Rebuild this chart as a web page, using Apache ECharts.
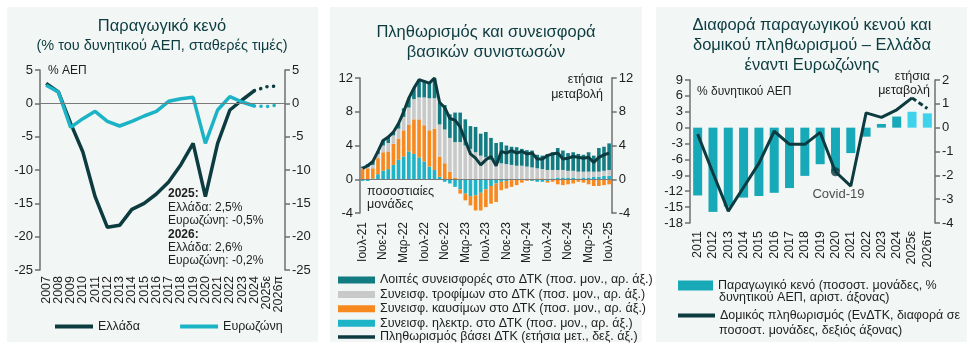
<!DOCTYPE html>
<html>
<head>
<meta charset="utf-8">
<title>Παραγωγικό κενό και πληθωρισμός</title>
<script src="https://cdn.jsdelivr.net/npm/echarts@6/dist/echarts.min.js"></script>
<style>html,body{margin:0;padding:0;background:#fff;}</style>
</head>
<body>
<div id="main" style="width:973px;height:350px;"></div>
<script type="text/javascript">
// ---------- panel 1: output gap ----------
var years1 = ['2007','2008','2009','2010','2011','2012','2013','2014','2015','2016',
              '2017','2018','2019','2020','2021','2022','2023','2024','2025ε','2026π'];
var greece   = [3.0, 1.7, -3.0, -7.3, -14.0, -18.6, -18.3, -15.9, -15.0, -13.6,
                -11.8, -9.2, -6.0, -14.0, -6.0, -1.0, 0.5, 1.9, 2.5, 2.6];
var eurozone = [2.7, 1.7, -3.6, -2.3, -1.2, -2.7, -3.4, -2.7, -1.9, -1.2,
                0.3, 0.7, 0.9, -6.0, -1.0, 1.0, 0.2, -0.4, -0.5, -0.2];
var lastActual1 = 17; // 2024, then dotted projection

// ---------- panel 2: inflation & contributions ----------
var months = ['Ιουλ-21','Αυγ-21','Σεπ-21','Οκτ-21','Νοε-21','Δεκ-21',
  'Ιαν-22','Φεβ-22','Μαρ-22','Απρ-22','Μαϊ-22','Ιουν-22','Ιουλ-22','Αυγ-22','Σεπ-22','Οκτ-22','Νοε-22','Δεκ-22',
  'Ιαν-23','Φεβ-23','Μαρ-23','Απρ-23','Μαϊ-23','Ιουν-23','Ιουλ-23','Αυγ-23','Σεπ-23','Οκτ-23','Νοε-23','Δεκ-23',
  'Ιαν-24','Φεβ-24','Μαρ-24','Απρ-24','Μαϊ-24','Ιουν-24','Ιουλ-24','Αυγ-24','Σεπ-24','Οκτ-24','Νοε-24','Δεκ-24',
  'Ιαν-25','Φεβ-25','Μαρ-25','Απρ-25','Μαϊ-25','Ιουν-25','Ιουλ-25'];
var electricity = [-0.2,-0.2,0.1,0.6,1.0,1.2,1.7,2.3,2.7,3.3,3.0,2.6,2.1,1.5,1.1,0.3,-0.3,-0.5,
  -0.9,-1.2,-1.7,-2.0,-1.9,-1.6,-1.2,-0.8,-0.5,-0.3,-0.2,-0.1,0.0,-0.1,-0.1,-0.2,-0.3,-0.3,
  -0.2,0.1,0.2,0.2,0.2,0.2,0.1,0.2,0.2,0.3,0.3,0.4,0.4];
var fuels = [1.2,1.3,1.2,1.9,2.2,2.1,2.5,2.5,3.1,3.2,4.1,4.5,4.3,4.3,4.9,2.4,1.9,0.9,
  0.2,-0.5,-0.8,-1.1,-1.8,-2.1,-2.1,-2.1,-2.2,-1.0,-0.9,-0.8,-0.7,-0.3,-0.1,0.0,0.1,0.1,
  -0.2,-0.3,-0.6,-0.7,-0.6,-0.5,-0.3,-0.4,-0.6,-0.8,-0.8,-0.7,-0.6];
var food = [0.1,0.2,0.4,0.5,0.8,1.0,1.0,1.2,1.6,2.0,2.4,2.6,3.3,3.8,3.6,3.8,4.0,4.0,
  4.2,4.4,4.0,3.6,3.2,2.8,2.6,2.3,2.0,1.9,1.8,1.7,1.6,1.6,1.5,1.4,1.2,1.1,
  1.1,1.0,0.9,0.9,0.8,0.8,0.8,0.7,0.7,0.6,0.6,0.6,0.7];
var others = [0.2,0.3,0.4,0.3,0.6,0.7,0.4,0.6,1.0,1.1,1.3,2.1,1.9,1.8,2.4,2.6,2.9,2.8,
  3.5,3.5,3.1,2.7,3.0,2.6,3.0,2.6,2.3,2.5,2.2,2.15,2.2,2.0,1.95,2.0,1.6,1.6,
  1.9,2.1,2.6,2.3,2.1,2.2,2.1,2.0,2.3,1.9,2.8,2.85,3.15];
var cpi = [1.3,1.6,2.1,3.3,4.6,5.0,5.6,6.6,8.0,9.6,10.8,11.8,11.6,11.4,12.0,9.1,8.5,7.2,
  7.0,6.2,4.6,3.0,2.5,1.7,2.3,2.7,1.6,3.3,3.1,3.4,3.1,3.3,3.0,3.1,2.4,2.4,
  2.8,3.0,3.1,2.4,2.5,2.7,2.6,2.5,2.6,2.0,2.6,2.9,3.1];

// ---------- panel 3: Greece vs euro area ----------
var years3 = ['2011','2012','2013','2014','2015','2016','2017','2018','2019','2020',
              '2021','2022','2023','2024','2025ε','2026π'];
var gapDiff  = [-12.8, -15.9, -14.9, -13.2, -12.9, -12.3, -11.4, -9.1, -6.9, -8.2,
                -4.8, -1.7, 0.7, 2.1, 3.0, 2.7];
var coreDiff = [-0.27, -1.9, -3.5, -2.5, -1.5, -0.15, -0.7, -0.7, -0.2, -1.85,
                -2.45, 0.62, 0.43, 0.75, 1.25, 0.8];
var covidIdx = 9;
var lastActual3 = 14; // solid up to 2025ε, dashed to 2026π

var FONT = 'Liberation Sans';
var DARK = '#0c3b40';
var TXT = '#1e1e1e';
var AX = '#6f6f6f';
var CYAN = '#1db3c6';
var BAR3 = '#18a9b8';

function upTo(arr, k) { return arr.map(function (v, i) { return i <= k ? v : '-'; }); }
function from(arr, k) { return arr.map(function (v, i) { return i >= k ? v : '-'; }); }

function yAx(grid, min, max, step, pos) {
  return {
    type: 'value', gridIndex: grid, min: min, max: max, interval: step, position: pos,
    axisLine: { show: true, lineStyle: { color: AX, width: 1.5 } },
    axisTick: { show: true, length: 5, lineStyle: { color: AX, width: 1.5 } },
    splitLine: { show: false },
    axisLabel: { color: TXT, fontSize: 13, fontFamily: FONT, margin: 7 }
  };
}
function xAx(grid, data, margin, interval, size) {
  return {
    type: 'category', gridIndex: grid, data: data,
    axisLine: { show: false }, axisTick: { show: false },
    axisLabel: { rotate: 90, interval: interval, color: TXT, fontSize: size, fontFamily: FONT, margin: margin }
  };
}

var zeroLine = {
  silent: true, symbol: ['none', 'none'], label: { show: false },
  lineStyle: { color: '#7a7a7a', width: 1, type: 'solid' },
  data: [{ yAxis: 0 }]
};

var myChart = echarts.init(document.getElementById('main'));

var gfx = [
  { type: 'rect', z: -10, shape: { x: 7, y: 7, width: 311, height: 335 }, style: { fill: '#f2f6f4' } },
  { type: 'rect', z: -10, shape: { x: 330, y: 7, width: 312, height: 335 }, style: { fill: '#f2f6f4' } },
  { type: 'rect', z: -10, shape: { x: 656, y: 7, width: 311, height: 335 }, style: { fill: '#f2f6f4' } }
];
function txt(x, y, s, opt) {
  opt = opt || {};
  gfx.push({
    type: 'text', z: 100, x: x, y: y,
    style: {
      text: s, fill: opt.color || TXT, fontSize: opt.size || 12.5, fontFamily: FONT,
      fontWeight: opt.weight || 'normal', textAlign: opt.align || 'left', textVerticalAlign: 'middle'
    }
  });
}
// titles
txt(162, 26, 'Παραγωγικό κενό', { size: 16.5, align: 'center', color: DARK });
txt(162, 46, '(% του δυνητικού ΑΕΠ, σταθερές τιμές)', { size: 14.5, align: 'center', color: DARK });
txt(486, 32, 'Πληθωρισμός και συνεισφορά', { size: 16.5, align: 'center', color: DARK });
txt(486, 52, 'βασικών συνιστωσών', { size: 16.5, align: 'center', color: DARK });
txt(812, 25, 'Διαφορά παραγωγικού κενού και', { size: 16.5, align: 'center', color: DARK });
txt(812, 45, 'δομικού πληθωρισμού – Ελλάδα', { size: 16.5, align: 'center', color: DARK });
txt(812, 65, 'έναντι Ευρωζώνης', { size: 16.5, align: 'center', color: DARK });
// panel 1 notes
txt(48, 71, '% ΑΕΠ', { size: 12 });
var notes = [['2025:', 'bold'], ['Ελλάδα: 2,5%'], ['Ευρωζώνη: -0,5%'], ['2026:', 'bold'], ['Ελλάδα: 2,6%'], ['Ευρωζώνη: -0,2%']];
notes.forEach(function (n, i) { txt(168, 194 + i * 13.4, n[0], { size: 12, weight: n[1] }); });
// panel 2 notes
txt(603, 80, 'ετήσια', { size: 12.5, align: 'right' });
txt(603, 95, 'μεταβολή', { size: 12.5, align: 'right' });
txt(367, 192, 'ποσοστιαίες', { size: 12.5 });
txt(367, 205, 'μονάδες', { size: 12.5 });
// panel 3 notes
txt(697, 92, '% δυνητικού ΑΕΠ', { size: 12 });
txt(930, 77, 'ετήσια', { size: 12.5, align: 'right' });
txt(930, 91, 'μεταβολή', { size: 12.5, align: 'right' });
txt(719, 298, 'δυνητικού ΑΕΠ, αριστ. άξονας)', { size: 12.5 });
txt(719, 331, 'ποσοστ. μονάδες, δεξιός άξονας)', { size: 12.5 });

var nmOther = 'Λοιπές συνεισφορές στο ΔΤΚ (ποσ. μον., αρ. άξ.)';
var nmFood = 'Συνεισφ. τροφίμων στο ΔΤΚ (ποσ. μον., αρ. άξ.)';
var nmFuel = 'Συνεισφ. καυσίμων στο ΔΤΚ (ποσ. μον., αρ. άξ.)';
var nmElec = 'Συνεισφ. ηλεκτρ. στο ΔΤΚ (ποσ. μον., αρ. άξ.)';
var nmCpi = 'Πληθωρισμός βάσει ΔΤΚ (ετήσια μετ., δεξ. άξ.)';
var nmGap = 'Παραγωγικό κενό (ποσοστ. μονάδες, %';
var nmCore = 'Δομικός πληθωρισμός (ΕνΔΤΚ, διαφορά σε';

var legText = { color: TXT, fontSize: 12.5, fontFamily: FONT };

var option = {
  animation: false,
  textStyle: { fontFamily: FONT },
  graphic: gfx,
  grid: [
    { left: 40, width: 245, top: 70, height: 200 },
    { left: 360, width: 251.7, top: 78, height: 135 },
    { left: 690, width: 245, top: 80, height: 143 }
  ],
  xAxis: [
    xAx(0, years1, 6, 0, 12.5),
    xAx(1, months, 9, 3, 12),
    xAx(2, years3, 8, 0, 12.5)
  ],
  yAxis: [
    yAx(0, -25, 5, 5, 'left'),
    yAx(0, -25, 5, 5, 'right'),
    yAx(1, -4, 12, 4, 'left'),
    yAx(1, -4, 12, 4, 'right'),
    yAx(2, -18, 9, 3, 'left'),
    yAx(2, -4, 2, 1, 'right')
  ],
  legend: [
    { data: ['Ελλάδα', 'Ευρωζώνη'], icon: 'rect', left: 55, top: 320, padding: 0,
      itemWidth: 38, itemHeight: 4, itemGap: 40, selectedMode: false, textStyle: legText },
    { data: [nmOther, nmFood, nmFuel, nmElec], icon: 'rect', orient: 'vertical', left: 338, top: 273,
      padding: 0, itemWidth: 37, itemHeight: 7, itemGap: 0.4, selectedMode: false,
      textStyle: { color: TXT, fontSize: 12.5, fontFamily: FONT, lineHeight: 14 } },
    { data: [nmCpi], icon: 'rect', left: 338, top: 330.5, padding: 0, itemWidth: 37, itemHeight: 3.5,
      selectedMode: false, textStyle: legText },
    { data: [{ name: nmGap, itemStyle: { color: BAR3 } }], icon: 'rect', left: 678, top: 279, padding: 0,
      itemWidth: 35, itemHeight: 10, selectedMode: false, textStyle: legText },
    { data: [nmCore], icon: 'rect', left: 678, top: 309, padding: 0, itemWidth: 37, itemHeight: 4,
      selectedMode: false, textStyle: legText }
  ],
  series: [
    // panel 1
    { name: 'Ελλάδα', type: 'line', xAxisIndex: 0, yAxisIndex: 0, data: upTo(greece, lastActual1),
      symbol: 'none', lineStyle: { color: DARK, width: 3.5 }, itemStyle: { color: DARK }, z: 3,
      markLine: zeroLine },
    { name: 'Ευρωζώνη', type: 'line', xAxisIndex: 0, yAxisIndex: 0, data: upTo(eurozone, lastActual1),
      symbol: 'none', lineStyle: { color: CYAN, width: 3.5 }, itemStyle: { color: CYAN }, z: 4 },
    { name: 'gr-proj', type: 'line', xAxisIndex: 0, yAxisIndex: 0, data: from(greece, lastActual1),
      symbol: 'none', lineStyle: { color: DARK, width: 3.5, type: [0.1, 6.5], cap: 'round' }, z: 3 },
    { name: 'ea-proj', type: 'line', xAxisIndex: 0, yAxisIndex: 0, data: from(eurozone, lastActual1),
      symbol: 'none', lineStyle: { color: CYAN, width: 3.5, type: [0.1, 6.5], cap: 'round' }, z: 4 },
    // panel 2 (stack order bottom -> top)
    { name: nmElec, type: 'bar', stack: 'cpi', xAxisIndex: 1, yAxisIndex: 2, data: electricity,
      barWidth: 3.6, itemStyle: { color: '#1fb3c7' }, markLine: zeroLine },
    { name: nmFuel, type: 'bar', stack: 'cpi', xAxisIndex: 1, yAxisIndex: 2, data: fuels,
      barWidth: 3.6, itemStyle: { color: '#f7891f' } },
    { name: nmFood, type: 'bar', stack: 'cpi', xAxisIndex: 1, yAxisIndex: 2, data: food,
      barWidth: 3.6, itemStyle: { color: '#c9c9c9' } },
    { name: nmOther, type: 'bar', stack: 'cpi', xAxisIndex: 1, yAxisIndex: 2, data: others,
      barWidth: 3.6, itemStyle: { color: '#137c83' } },
    { name: nmCpi, type: 'line', xAxisIndex: 1, yAxisIndex: 3, data: cpi, symbol: 'none', z: 5,
      lineStyle: { color: DARK, width: 3 }, itemStyle: { color: DARK } },
    // panel 3
    { name: nmGap, type: 'bar', xAxisIndex: 2, yAxisIndex: 4, data: gapDiff, barWidth: 9,
      itemStyle: { color: function (p) { return p.dataIndex >= 14 ? '#3ed3ea' : BAR3; } } },
    { name: nmCore, type: 'line', xAxisIndex: 2, yAxisIndex: 5, data: upTo(coreDiff, lastActual3),
      symbol: 'none', z: 5, lineStyle: { color: DARK, width: 3 }, itemStyle: { color: DARK } },
    { name: 'core-proj', type: 'line', xAxisIndex: 2, yAxisIndex: 5, data: from(coreDiff, lastActual3),
      symbol: 'none', z: 5, lineStyle: { color: DARK, width: 3, type: [5, 3] } },
    { name: 'covid', type: 'scatter', xAxisIndex: 2, yAxisIndex: 5, z: 6, symbolSize: 9,
      data: coreDiff.map(function (v, i) { return i === covidIdx ? v : '-'; }),
      itemStyle: { color: DARK },
      label: { show: true, position: 'bottom', distance: 9, offset: [3, 3], formatter: 'Covid-19',
               color: TXT, fontSize: 13, fontFamily: FONT } }
  ]
};

myChart.setOption(option);
</script>
</body>
</html>
